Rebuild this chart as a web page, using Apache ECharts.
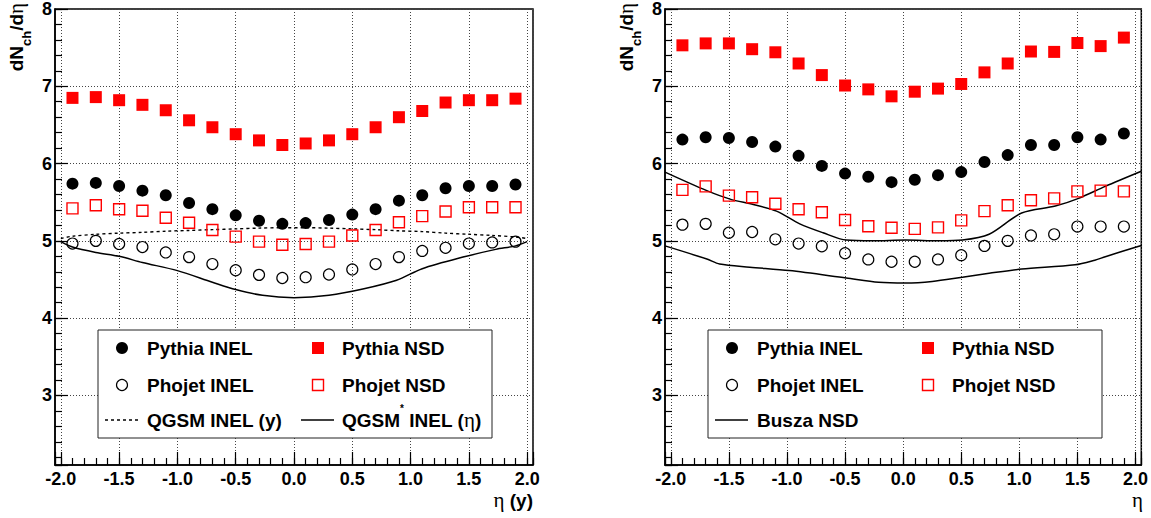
<!DOCTYPE html>
<html>
<head>
<meta charset="utf-8">
<title>dNch/deta</title>
<script src="https://cdn.jsdelivr.net/npm/echarts@6/dist/echarts.min.js"></script>
<style>
  html, body { margin: 0; padding: 0; background: #fff; }
  #chart { width: 1151px; height: 518px; }
</style>
</head>
<body>
<div id="chart"></div>
<script>
// ---- bin centres in pseudorapidity ----
const etaBins = [-1.9, -1.7, -1.5, -1.3, -1.1, -0.9, -0.7, -0.5, -0.3, -0.1,
                 0.1, 0.3, 0.5, 0.7, 0.9, 1.1, 1.3, 1.5, 1.7, 1.9];

// ---- tick labels ----
const xTickValues = [-2.0, -1.5, -1.0, -0.5, 0.0, 0.5, 1.0, 1.5, 2.0];
const yTickValues = [3, 4, 5, 6, 7, 8];

// ---- left pad: generators vs QGSM ----
const namesLeft = ['Pythia INEL', 'Pythia NSD', 'Phojet INEL', 'Phojet NSD', 'QGSM INEL (y)', 'QGSM* INEL (η)'];
const pythiaInelL = [5.74, 5.75, 5.71, 5.65, 5.59, 5.49, 5.41, 5.33, 5.26, 5.22,
                     5.23, 5.27, 5.34, 5.41, 5.52, 5.59, 5.68, 5.71, 5.71, 5.73];
const pythiaNsdL  = [6.85, 6.86, 6.82, 6.76, 6.69, 6.56, 6.47, 6.38, 6.30, 6.24,
                     6.26, 6.30, 6.38, 6.47, 6.60, 6.68, 6.79, 6.82, 6.82, 6.84];
const phojetInelL = [4.965, 5.00, 4.96, 4.92, 4.85, 4.79, 4.70, 4.62, 4.56, 4.52,
                     4.53, 4.565, 4.63, 4.70, 4.79, 4.87, 4.91, 4.965, 4.98, 4.99];
const phojetNsdL  = [5.42, 5.46, 5.41, 5.39, 5.30, 5.235, 5.14, 5.055, 4.99, 4.95,
                     4.96, 4.99, 5.07, 5.14, 5.24, 5.32, 5.38, 5.435, 5.435, 5.435];
const qgsmYEta = [-2.0, -1.9, -1.7, -1.5, -1.3, -1.1, -0.9, -0.7, -0.5, -0.3, -0.1,
                  0.1, 0.3, 0.5, 0.7, 0.9, 1.1, 1.3, 1.5, 1.7, 1.9, 2.0];
const qgsmYVal = [5.03, 5.06, 5.085, 5.10, 5.11, 5.125, 5.135, 5.145, 5.155, 5.165, 5.17,
                  5.17, 5.165, 5.155, 5.145, 5.13, 5.12, 5.10, 5.085, 5.07, 5.05, 5.03];
const qgsmEtaEta = [-2.0, -1.9, -1.7, -1.5, -1.3, -1.0, -0.7, -0.5, -0.27, 0.0,
                    0.3, 0.6, 0.88, 1.1, 1.45, 1.73, 1.9, 2.0];
const qgsmEtaVal = [4.99, 4.92, 4.85, 4.80, 4.72, 4.615, 4.465, 4.37, 4.295, 4.265,
                    4.295, 4.38, 4.49, 4.64, 4.79, 4.89, 4.935, 4.99];

// ---- right pad: generators vs Busza ----
const namesRight = ['Pythia INEL', 'Pythia NSD', 'Phojet INEL', 'Phojet NSD', 'Busza NSD'];
const pythiaInelR = [6.31, 6.34, 6.33, 6.28, 6.22, 6.10, 5.97, 5.87, 5.83, 5.76,
                     5.79, 5.85, 5.89, 6.02, 6.11, 6.24, 6.24, 6.34, 6.31, 6.39];
const pythiaNsdR  = [7.53, 7.555, 7.555, 7.48, 7.44, 7.295, 7.145, 7.01, 6.96, 6.87,
                     6.93, 6.97, 7.03, 7.18, 7.295, 7.45, 7.445, 7.56, 7.52, 7.63];
const phojetInelR = [5.21, 5.22, 5.105, 5.115, 5.02, 4.965, 4.93, 4.84, 4.76, 4.73,
                     4.73, 4.76, 4.815, 4.935, 5.00, 5.07, 5.085, 5.185, 5.185, 5.185];
const phojetNsdR  = [5.66, 5.705, 5.585, 5.565, 5.48, 5.41, 5.37, 5.27, 5.19, 5.17,
                     5.155, 5.175, 5.265, 5.385, 5.46, 5.525, 5.55, 5.64, 5.65, 5.64];
const buszaUpEta = [-2.05, -1.69, -1.49, -1.29, -1.09, -0.89, -0.69, -0.49, -0.26, 0.02,
                    0.31, 0.51, 0.74, 1.02, 1.31, 1.51, 1.74, 2.05];
const buszaUpVal = [5.89, 5.65, 5.54, 5.47, 5.385, 5.22, 5.105, 5.01, 5.00, 5.01,
                    5.00, 5.01, 5.085, 5.36, 5.45, 5.55, 5.705, 5.90];
const buszaLoEta = [-2.05, -1.69, -1.58, -1.32, -0.98, -0.49, -0.21, 0.02, 0.25, 0.51,
                    0.74, 1.02, 1.48, 1.65, 1.74, 2.05];
const buszaLoVal = [4.935, 4.765, 4.70, 4.66, 4.615, 4.52, 4.465, 4.455, 4.475, 4.53,
                    4.58, 4.635, 4.69, 4.75, 4.795, 4.94];

// ---- styling ----
const FONT = "'Liberation Sans', Arial, Helvetica, sans-serif";
const GREEK = "'Liberation Serif', 'DejaVu Serif', serif";
const X_RANGE = [-2.05, 2.05];
const Y_RANGE = [2.1, 8];

const markerStyles = {
  fullCircle: { symbol: 'circle', size: 12, item: { color: '#000000', opacity: 1 } },
  fullSquare: { symbol: 'rect', size: 12, item: { color: '#ff0000', opacity: 1 } },
  openCircle: { symbol: 'circle', size: 11, item: { color: 'rgba(0,0,0,0)', borderColor: '#000000', borderWidth: 1.2, opacity: 1 } },
  openSquare: { symbol: 'rect', size: 11, item: { color: 'rgba(0,0,0,0)', borderColor: '#ff0000', borderWidth: 1.4, opacity: 1 } }
};
const curveStyles = {
  dotted: { color: '#000000', width: 1.4, type: [3, 3] },
  solid: { color: '#000000', width: 1.5, type: 'solid' }
};

function scatter(name, values, kind, axisIndex) {
  const m = markerStyles[kind];
  return {
    type: 'scatter', name, xAxisIndex: axisIndex, yAxisIndex: axisIndex,
    data: etaBins.map((x, i) => [x, values[i]]),
    symbol: m.symbol, symbolSize: m.size, itemStyle: m.item,
    z: 3, silent: true, animation: false
  };
}
function curve(name, xs, ys, kind, axisIndex) {
  return {
    type: 'line', name, xAxisIndex: axisIndex, yAxisIndex: axisIndex,
    data: xs.map((x, i) => [x, ys[i]]),
    showSymbol: false, symbol: 'none', smooth: 0.3,
    lineStyle: curveStyles[kind], z: 2, silent: true, animation: false
  };
}

function matchTick(list, v) {
  for (const t of list) if (Math.abs(t - v) < 1e-6) return t;
  return null;
}
const fmtX = v => { const t = matchTick(xTickValues, v); return t === null ? '' : t.toFixed(1); };
const fmtY = v => { const t = matchTick(yTickValues, v); return t === null ? '' : String(t); };

const labelStyle = { fontFamily: FONT, fontWeight: 'bold', fontSize: 18, color: '#000' };
const gridDots = { show: true, lineStyle: { color: '#444', width: 1, type: [1, 2] } };

// major axis (labels, long ticks, grid) and a companion axis for minor ticks
function xAxes(gridIndex) {
  return [
    { type: 'value', gridIndex, position: 'bottom', min: X_RANGE[0], max: X_RANGE[1], splitNumber: 8,
      axisLine: { show: true, onZero: false, lineStyle: { color: '#000', width: 1.5 } },
      axisTick: { show: true, inside: true, length: 13, lineStyle: { color: '#000', width: 1.2 } },
      axisLabel: Object.assign({ margin: 5, formatter: fmtX }, labelStyle),
      splitLine: gridDots },
    { type: 'value', gridIndex, position: 'bottom', min: X_RANGE[0], max: X_RANGE[1], splitNumber: 41,
      axisLine: { show: false, onZero: false },
      axisTick: { show: true, inside: true, length: 7, lineStyle: { color: '#000', width: 1.2 } },
      axisLabel: { show: false }, splitLine: { show: false } }
  ];
}
function yAxes(gridIndex) {
  return [
    { type: 'value', gridIndex, position: 'left', min: Y_RANGE[0], max: Y_RANGE[1], splitNumber: 6,
      axisLine: { show: true, onZero: false, lineStyle: { color: '#000', width: 1.5 } },
      axisTick: { show: true, inside: true, length: 13, lineStyle: { color: '#000', width: 1.2 } },
      axisLabel: Object.assign({ margin: 3, formatter: fmtY }, labelStyle),
      splitLine: gridDots },
    { type: 'value', gridIndex, position: 'left', min: Y_RANGE[0], max: Y_RANGE[1], splitNumber: 30,
      axisLine: { show: false, onZero: false },
      axisTick: { show: true, inside: true, length: 7, lineStyle: { color: '#000', width: 1.2 } },
      axisLabel: { show: false }, splitLine: { show: false } }
  ];
}

// rich-text helpers: '*' as superscript, 'η' in a Greek face
const richStyles = {
  b: { fontFamily: FONT, fontWeight: 'bold', fontSize: 19, lineHeight: 34 },
  g: { fontFamily: GREEK, fontWeight: 'normal', fontSize: 21, lineHeight: 34 },
  s: { fontFamily: FONT, fontWeight: 'bold', fontSize: 10, lineHeight: 10, verticalAlign: 'top' },
  sub: { fontFamily: FONT, fontWeight: 'bold', fontSize: 13, lineHeight: 13, verticalAlign: 'bottom' }
};
function richify(str) {
  return ('{b|' + str.replace(/\*/g, '}{s|*}{b|').replace(/η/g, '}{g|η}{b|') + '}').replace(/\{b\|\}/g, '');
}
function textEl(x, y, text, align, rotation) {
  return {
    type: 'text', x, y, rotation: rotation || 0, silent: true, z: 20,
    style: { text, rich: richStyles, fill: '#000', align, verticalAlign: 'middle',
             fontFamily: FONT, fontWeight: 'bold', fontSize: 19 }
  };
}

// legend box drawn from the series names and their marker / line kinds
function legendEls(ox, names, kinds) {
  const els = [{
    type: 'rect', shape: { x: ox, y: 330, width: 394, height: 108 }, z: 10, silent: true,
    style: { fill: '#fff', stroke: '#222', lineWidth: 1 }
  }];
  const cols = [{ sym: ox + 24, txt: ox + 49 }, { sym: ox + 220, txt: ox + 244 }];
  const rows = [348, 385, 420];
  names.forEach((name, i) => {
    const col = cols[i % 2], cy = rows[Math.floor(i / 2)], kind = kinds[i];
    if (markerStyles[kind]) {
      const m = markerStyles[kind];
      const st = { fill: m.item.color, stroke: m.item.borderColor || null, lineWidth: m.item.borderWidth || 0 };
      if (m.symbol === 'circle') {
        els.push({ type: 'circle', shape: { cx: col.sym, cy, r: m.size / 2 }, style: st, z: 11, silent: true });
      } else {
        els.push({ type: 'rect', shape: { x: col.sym - m.size / 2, y: cy - m.size / 2, width: m.size, height: m.size }, style: st, z: 11, silent: true });
      }
    } else {
      const ls = curveStyles[kind];
      els.push({ type: 'line', shape: { x1: col.sym - 17, y1: cy, x2: col.sym + 16, y2: cy }, z: 11, silent: true,
                 style: { stroke: ls.color, lineWidth: ls.width, lineDash: Array.isArray(ls.type) ? ls.type : null } });
    }
    els.push(textEl(col.txt, cy, richify(name), 'left'));
  });
  return els;
}

const kindsLeft = ['fullCircle', 'fullSquare', 'openCircle', 'openSquare', 'dotted', 'solid'];
const kindsRight = ['fullCircle', 'fullSquare', 'openCircle', 'openSquare', 'solid'];

const series = [
  curve(namesLeft[4], qgsmYEta, qgsmYVal, 'dotted', 0),
  curve(namesLeft[5], qgsmEtaEta, qgsmEtaVal, 'solid', 0),
  scatter(namesLeft[0], pythiaInelL, 'fullCircle', 0),
  scatter(namesLeft[1], pythiaNsdL, 'fullSquare', 0),
  scatter(namesLeft[2], phojetInelL, 'openCircle', 0),
  scatter(namesLeft[3], phojetNsdL, 'openSquare', 0),

  curve(namesRight[4], buszaUpEta, buszaUpVal, 'solid', 2),
  curve(namesRight[4] + ' ', buszaLoEta, buszaLoVal, 'solid', 2),
  scatter(namesRight[0], pythiaInelR, 'fullCircle', 2),
  scatter(namesRight[1], pythiaNsdR, 'fullSquare', 2),
  scatter(namesRight[2], phojetInelR, 'openCircle', 2),
  scatter(namesRight[3], phojetNsdR, 'openSquare', 2)
];

// axis titles: dN_ch/dη on the vertical axes, η (y) / η under the horizontal ones
const yTitle = '{b|dN}{sub|ch}{b|/d}{g|η}';
const graphics = []
  .concat(legendEls(98, namesLeft, kindsLeft))
  .concat(legendEls(708, namesRight, kindsRight))
  .concat([
    textEl(16, 3, yTitle, 'right', Math.PI / 2),
    textEl(626, 3, yTitle, 'right', Math.PI / 2),
    textEl(533, 500, richify('η (y)'), 'right'),
    textEl(1143, 500, richify('η'), 'right')
  ]);

const chart = echarts.init(document.getElementById('chart'), null, { renderer: 'svg' });
chart.setOption({
  backgroundColor: '#fff',
  animation: false,
  grid: [
    { left: 55, top: 7, width: 478, height: 458, show: true, borderColor: '#000', borderWidth: 1.5, backgroundColor: 'transparent' },
    { left: 665, top: 7, width: 478, height: 458, show: true, borderColor: '#000', borderWidth: 1.5, backgroundColor: 'transparent' }
  ],
  xAxis: xAxes(0).concat(xAxes(1)),
  yAxis: yAxes(0).concat(yAxes(1)),
  series,
  graphic: { elements: graphics }
});
</script>
</body>
</html>
